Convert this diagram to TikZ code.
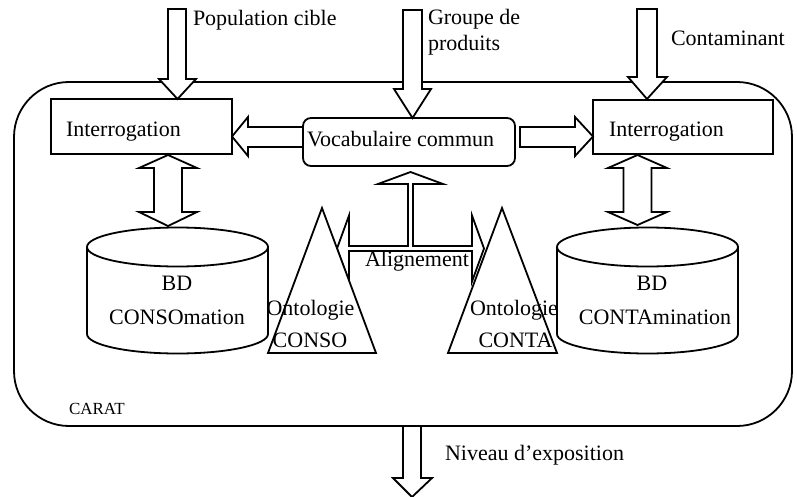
\documentclass[tikz,border=0pt]{standalone}
\usepackage{fontspec}
\setmainfont{Liberation Serif}
\begin{document}
\begin{tikzpicture}[x=1pt,y=-1pt,
  every node/.style={inner sep=0pt,outer sep=0pt,font=\fontsize{22}{26}\selectfont},
  ln/.style={line width=1.8pt,line join=miter},
  blk/.style={ln,draw=black,fill=white},
  boxst/.style={ln,draw=black,fill=white},
  lbl/.style={anchor=base},
  lblw/.style={anchor=base west}]
\useasboundingbox (0,0) rectangle (797,497);
% outer frame
\draw[ln,rounded corners=55pt] (14,82) rectangle (792,426);
\coordinate (carat) at (69,414);
\node[lblw,font=\fontsize{17}{20}\selectfont] (caratlbl) at (carat) {CARAT};
% boxes
\draw[boxst] (51,99) rectangle (232,154);
\node (interL) at (141.5,126.5) {};
\node[lblw] (interLt) at (66,137) {Interrogation};
\draw[boxst] (593,100) rectangle (773,154);
\node (interR) at (683,127) {};
\node[lblw] (interRt) at (609,137) {Interrogation};
\draw[boxst,rounded corners=8pt] (303,118) rectangle (515,166);
\node (vocab) at (409,142) {};
\node[lblw] (vocabt) at (307,147) {Vocabulaire commun};
% input arrows
\draw[blk] (168,9) -- (168,79) -- (159,79) -- (177.5,99) -- (196,79) -- (186,79) -- (186,9) -- cycle;
\node[lblw] (pop) at (193,26) {Population cible};
\draw[blk] (403,10) -- (403,89) -- (394,89) -- (412.5,118) -- (431,89) -- (422,89) -- (422,10) -- cycle;
\node[lblw] (grp1) at (428,25) {Groupe de};
\node[lblw] (grp2) at (428,51) {produits};
\draw[blk] (637,9) -- (637,77) -- (628,77) -- (647,99) -- (667,77) -- (657,77) -- (657,9) -- cycle;
\node[lblw] (cont) at (671,46) {Contaminant};
% vocab -> interrogation arrows
\draw[blk] (303,127) -- (248,127) -- (248,117) -- (232,136.5) -- (248,156) -- (248,147) -- (303,147) -- cycle;
\draw[blk] (520,127) -- (575,127) -- (575,117) -- (593,136.5) -- (575,156) -- (575,147) -- (520,147) -- cycle;
% double arrows
\draw[blk] (168,155) -- (197,168) -- (182,168) -- (182,212) -- (197,212) -- (168,226) -- (139,212) -- (154,212) -- (154,168) -- (139,168) -- cycle;
\draw[blk] (637.5,155) -- (667,168) -- (651.5,168) -- (651.5,212) -- (667,212) -- (637.5,225) -- (608,212) -- (623.5,212) -- (623.5,168) -- (608,168) -- cycle;
% alignment arrow
\draw[blk] (337,248.5) -- (349,215.5) -- (349,246) -- (408,246) -- (408,184) -- (378,184) -- (410.5,172) -- (443,184) -- (413,184) -- (413,246) -- (472,246) -- (472,215.5) -- (484,248.5) -- (472,281.5) -- (472,251) -- (349,251) -- (349,281.5) -- cycle;
\node[lbl] (align) at (417,266) {Alignement};
% triangles
\draw[blk] (322,208) -- (376,353) -- (268,353) -- cycle;
\node[lbl] (ontoL1) at (310.5,315) {Ontologie};
\node[lbl] (ontoL2) at (310,347) {CONSO};
\draw[blk] (502,208) -- (557,353) -- (448,353) -- cycle;
\node[lbl] (ontoR1) at (514,315) {Ontologie};
\node[lbl] (ontoR2) at (515.5,347) {CONTA};
% cylinders
\draw[blk] (87,247) -- (87,334) arc[start angle=180,end angle=360,x radius=90.5pt,y radius=19.5pt] -- (268,247) arc[start angle=0,end angle=180,x radius=90.5pt,y radius=19.5pt] -- cycle;
\draw[ln] (87,247) arc[start angle=180,end angle=360,x radius=90.5pt,y radius=19.5pt];
\node[lbl] (bdL1) at (177,290) {BD};
\node[lbl] (bdL2) at (177,324) {CONSOmation};
\draw[blk] (557,247) -- (557,334) arc[start angle=180,end angle=360,x radius=90.5pt,y radius=19.5pt] -- (738,247) arc[start angle=0,end angle=180,x radius=90.5pt,y radius=19.5pt] -- cycle;
\draw[ln] (557,247) arc[start angle=180,end angle=360,x radius=90.5pt,y radius=19.5pt];
\node[lbl] (bdR1) at (652,290) {BD};
\node[lbl] (bdR2) at (655,324) {CONTAmination};
% output arrow
\draw[blk] (403,426) -- (403,478) -- (393,478) -- (412,497) -- (432,478) -- (421,478) -- (421,426) -- cycle;
\node[lblw] (niv) at (445,460) {Niveau d’exposition};
\end{tikzpicture}
\end{document}
